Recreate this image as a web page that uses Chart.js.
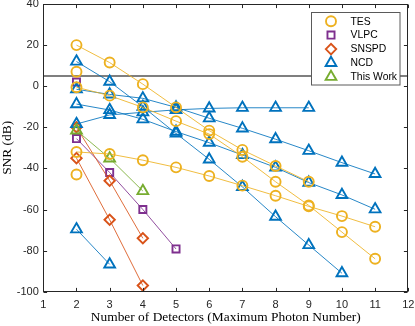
<!DOCTYPE html>
<html><head><meta charset="utf-8">
<script src="https://cdn.jsdelivr.net/npm/chart.js@4/dist/chart.umd.min.js"></script>
<style>html,body{margin:0;padding:0;background:#fff;overflow:hidden}#wrap{width:415px;height:326px;position:relative}</style>
</head><body><div id="wrap"><canvas id="c" width="415" height="326"></canvas></div>
<script>
// ---- data (SNR in dB, series start at 2 detectors) ----
const firstDetector = 2;
const xTicks = [1,2,3,4,5,6,7,8,9,10,11,12];
const yTicks = [-100,-80,-60,-40,-20,0,20,40];
const thresholdDb = 5;
const legendLabels = ['TES','VLPC','SNSPD','NCD','This Work'];

const tesA = [20, 11.5, 1, -10.3, -21.6, -31, -38.8, -46.5];
const tesB = [-0.5, -4.6, -10.3, -17, -23.3, -34.3, -46.5, -58, -71, -84];
const tesC = [-32, -33, -36, -39.5, -43.7, -48.4, -53.3, -58.5, -63.2, -68.4];
const tesD = [7];
const tesE = [-43];

const vlpcA = [2];
const vlpcB = [-25.5, -42, -60, -79.2];

const snspdA = [-20, -46, -74];
const snspdB = [-35, -65, -97];

const ncdA = [12, 2.2, -10, -23, -35.6, -49, -63.5, -77.3, -91];
const ncdB = [-8.7, -11.6, -16.1, -22.1, -27.5, -33.5, -39.5, -46.9, -52.9, -59.9];
const ncdC = [-1.5, -4, -5.9, -10.3, -15.6, -20.5, -25.8, -31.4, -37.2, -42.7];
const ncdD = [-18.4, -14, -12.7, -11.5, -10.8, -10.5, -10.5, -10.5];
const ncdE = [-69.6, -86.7];

const thisWork = [-21.5, -35.1, -51];

// ---- styles ----
const STY = {
  'TES':      {color:'#EDB120', line:'rgba(237,177,32,0.85)', pointStyle:'circle',   radius:5},
  'VLPC':     {color:'#7E2F8E', line:'rgba(126,47,142,0.85)', pointStyle:'rect',     radius:5},
  'SNSPD':    {color:'#D95319', line:'rgba(217,83,25,0.85)',  pointStyle:'rectRot',  radius:5.2},
  'NCD':      {color:'#0072BD', line:'rgba(0,114,189,0.85)',  pointStyle:'triangle', radius:6.2},
  'This Work':{color:'#77AC30', line:'rgba(119,172,48,0.85)', pointStyle:'triangle', radius:6.2}
};
const toPts = vals => vals.map((v,i)=>({x:firstDetector+i, y:v}));
function ds(kind, vals){
  const s = STY[kind];
  return {label:kind, data:toPts(vals), borderColor:s.line, borderWidth:1,
    pointStyle:s.pointStyle, pointRadius:s.radius, pointBorderColor:s.color,
    pointBackgroundColor:'rgba(0,0,0,0)', pointBorderWidth:1.9, showLine:true, tension:0, fill:false};
}
const datasets = [
  ds('TES', tesA), ds('TES', tesB), ds('TES', tesC), ds('TES', tesD), ds('TES', tesE),
  ds('This Work', thisWork),
  ds('NCD', ncdA), ds('NCD', ncdB), ds('NCD', ncdC), ds('NCD', ncdD), ds('NCD', ncdE),
  ds('SNSPD', snspdA), ds('SNSPD', snspdB),
  ds('VLPC', vlpcA), ds('VLPC', vlpcB),
  {label:'threshold', data:[{x:xTicks[0],y:thresholdDb},{x:xTicks[xTicks.length-1],y:thresholdDb}],
   borderColor:'#555555', borderWidth:1.4, pointRadius:0, showLine:true}
];

const AX = '#262626';
const framePlugin = {
  id:'frame',
  afterDatasetsDraw(chart){
    const {ctx, chartArea:a, scales:{x,y}} = chart;
    ctx.save();
    ctx.strokeStyle = AX; ctx.lineWidth = 1;
    const L=Math.round(a.left)+0.5, R=Math.round(a.right)-0.5, T=Math.round(a.top)+0.5, B=Math.round(a.bottom)-0.5;
    ctx.strokeRect(L, T, R-L, B-T);
    const tl = 3.6;
    ctx.beginPath();
    xTicks.forEach(v=>{ const px=Math.round(x.getPixelForValue(v))+0.5;
      ctx.moveTo(px,B); ctx.lineTo(px,B-tl); ctx.moveTo(px,T); ctx.lineTo(px,T+tl); });
    yTicks.forEach(v=>{ const py=Math.round(y.getPixelForValue(v))+0.5;
      ctx.moveTo(L,py); ctx.lineTo(L+tl,py); ctx.moveTo(R,py); ctx.lineTo(R-tl,py); });
    ctx.stroke();
    // axis titles
    ctx.fillStyle = '#000';
    ctx.font = '14px "Liberation Serif"';
    const xt = 'Number of Detectors (Maximum Photon Number)';
    const fs = 14*270/ctx.measureText(xt).width;
    ctx.font = fs.toFixed(2)+'px "Liberation Serif"';
    ctx.textAlign='center'; ctx.textBaseline='middle';
    ctx.fillText(xt, (a.left+a.right)/2, 317);
    ctx.save();
    ctx.translate(7.5, (a.top+a.bottom)/2);
    ctx.rotate(-Math.PI/2);
    ctx.fillText('SNR (dB)', 0, 0);
    ctx.restore();
    ctx.restore();
  },
  afterDraw(chart){
    const ctx = chart.ctx;
    ctx.save();
    const bx=311.5, by=12.5, bw=88.5, bh=72.5;
    ctx.fillStyle='#fff'; ctx.fillRect(bx,by,bw,bh);
    ctx.strokeStyle='#5a5a5a'; ctx.lineWidth=1; ctx.strokeRect(bx,by,bw,bh);
    ctx.font='10.4px "Liberation Sans"'; ctx.textAlign='left'; ctx.textBaseline='middle'; ctx.fillStyle='#000';
    const rows=[21.3,35.1,49.1,62.9,76.8];
    legendLabels.forEach((lab,i)=>{
      const s=STY[lab];
      ctx.strokeStyle=s.color; ctx.lineWidth=1.9; ctx.fillStyle='rgba(0,0,0,0)';
      Chart.helpers.drawPoint(ctx,{pointStyle:s.pointStyle, radius:s.radius, borderWidth:1.9, rotation:0}, 331, rows[i]);
      ctx.fillStyle='#000';
      ctx.fillText(lab, 350.5, rows[i]+0.5);
    });
    ctx.restore();
  }
};

new Chart(document.getElementById('c'), {
  type:'line',
  data:{datasets},
  options:{
    responsive:false, animation:false, devicePixelRatio:1,
    layout:{autoPadding:false, padding:{left:0,right:6.7,top:4,bottom:0}},
    plugins:{legend:{display:false}, tooltip:{enabled:false}},
    scales:{
      x:{type:'linear', min:1, max:12,
        afterBuildTicks(s){ s.ticks = xTicks.map(v=>({value:v})); },
        afterFit(s){ s.height = 34.3; s.paddingLeft=0; s.paddingRight=0; },
        grid:{display:false, drawTicks:false}, border:{display:false},
        ticks:{font:{family:'Liberation Sans', size:11}, color:AX, padding:6.5, maxRotation:0, autoSkip:false}},
      y:{type:'linear', min:-100, max:40,
        afterBuildTicks(s){ s.ticks = yTicks.map(v=>({value:v})); },
        afterFit(s){ s.width = 43.3; s.paddingTop=0; s.paddingBottom=0; },
        grid:{display:false, drawTicks:false}, border:{display:false},
        ticks:{font:{family:'Liberation Sans', size:11}, color:AX, padding:4.5, autoSkip:false}}
    }
  },
  plugins:[framePlugin]
});
</script></body></html>
